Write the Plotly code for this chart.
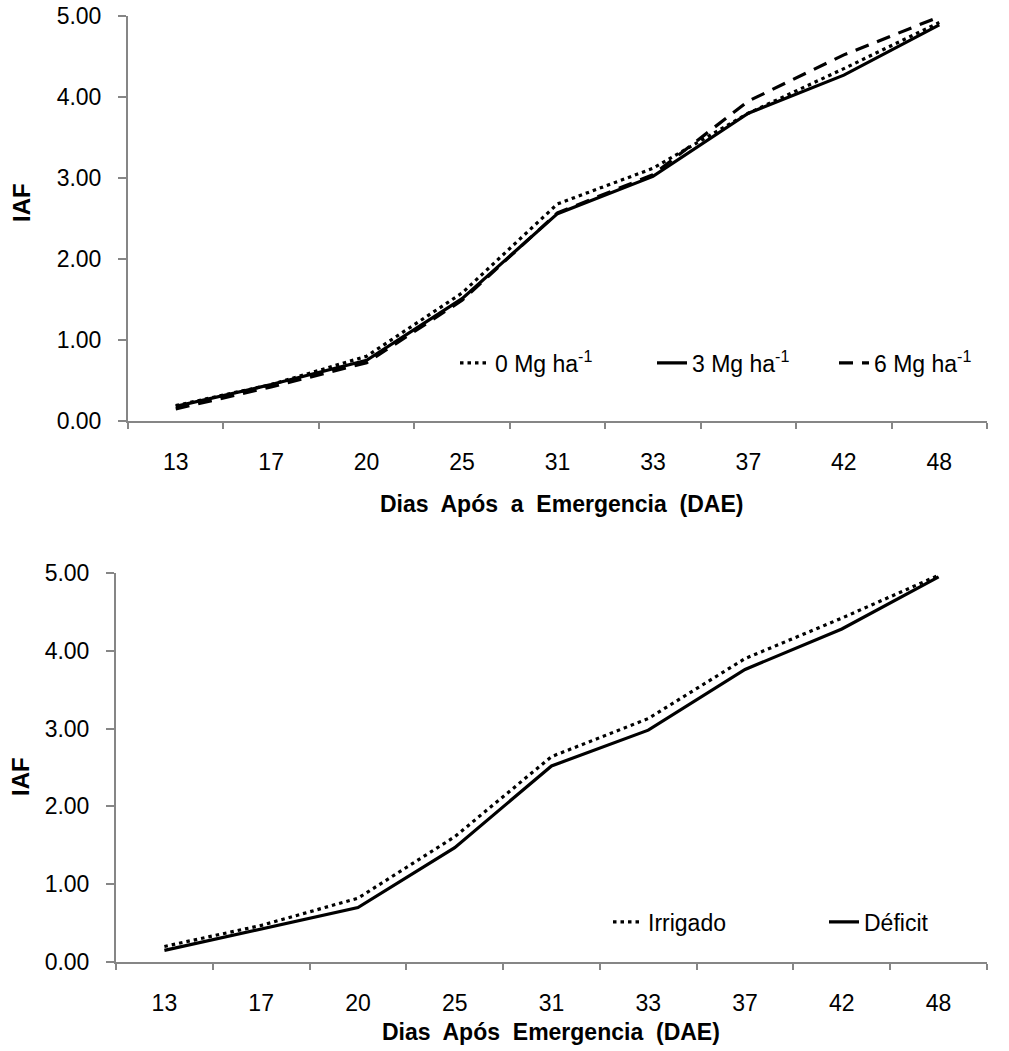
import plotly.graph_objects as go

# ---- data ----
dae = ["13", "17", "20", "25", "31", "33", "37", "42", "48"]

mg0 = [0.19, 0.45, 0.80, 1.58, 2.68, 3.12, 3.80, 4.35, 4.92]
mg3 = [0.18, 0.45, 0.75, 1.51, 2.56, 3.02, 3.80, 4.27, 4.89]
mg6 = [0.15, 0.42, 0.72, 1.49, 2.57, 3.04, 3.95, 4.52, 4.99]

irrigado = [0.20, 0.47, 0.82, 1.61, 2.64, 3.13, 3.90, 4.42, 4.97]
deficit = [0.15, 0.42, 0.70, 1.47, 2.52, 2.98, 3.76, 4.28, 4.95]

ytick_vals = [0, 1, 2, 3, 4, 5]

W, H = 1009, 1051
FONT = "Liberation Sans, Arial, sans-serif"
AXC = "#868686"
LW = 3.2
DOT = "3.5px,4px"
DASH = "14px,9px"
FS = 23

fig = go.Figure()

fig.add_trace(go.Scatter(x=dae, y=mg0, mode="lines", name="0 Mg ha<sup>-1</sup>",
                         line=dict(color="black", width=LW, dash=DOT),
                         xaxis="x", yaxis="y", legend="legend"))
fig.add_trace(go.Scatter(x=dae, y=mg3, mode="lines", name="3 Mg ha<sup>-1</sup>",
                         line=dict(color="black", width=LW),
                         xaxis="x", yaxis="y", legend="legend3"))
fig.add_trace(go.Scatter(x=dae, y=mg6, mode="lines", name="6 Mg ha<sup>-1</sup>",
                         line=dict(color="black", width=LW, dash=DASH),
                         xaxis="x", yaxis="y", legend="legend4"))

fig.add_trace(go.Scatter(x=dae, y=irrigado, mode="lines", name="Irrigado",
                         line=dict(color="black", width=LW, dash=DOT),
                         xaxis="x2", yaxis="y2", legend="legend2"))
fig.add_trace(go.Scatter(x=dae, y=deficit, mode="lines", name="Déficit",
                         line=dict(color="black", width=LW),
                         xaxis="x2", yaxis="y2", legend="legend5"))


def px_x(p):
    return p / W


def px_y(p):
    return (H - p) / H


def leg(xpx, ypx):
    return dict(orientation="h", x=px_x(xpx), xanchor="left",
                y=px_y(ypx), yanchor="middle", bgcolor="rgba(0,0,0,0)",
                font=dict(family=FONT, size=FS, color="black"),
                itemwidth=30)


xcommon = dict(type="category", range=[-0.5, 8.5], tickson="boundaries",
               showline=True, linecolor=AXC, linewidth=2, ticks="outside",
               ticklen=6, tickcolor=AXC, tickwidth=2, showgrid=False,
               zeroline=False, automargin=False,
               tickfont=dict(family=FONT, size=FS, color="black"),
               ticklabelstandoff=19, fixedrange=True)
ycommon = dict(range=[0, 5], tickvals=ytick_vals, tickformat=".2f",
               showline=True, linecolor=AXC, linewidth=2, ticks="outside",
               ticklen=8, tickcolor=AXC, tickwidth=2, showgrid=False,
               zeroline=False, automargin=False,
               tickfont=dict(family=FONT, size=FS, color="black"),
               ticklabelstandoff=12, fixedrange=True)

fig.update_layout(
    width=W, height=H,
    margin=dict(l=0, r=0, t=0, b=0),
    paper_bgcolor="white", plot_bgcolor="white",
    font=dict(family=FONT, color="black"),
    xaxis=dict(domain=[px_x(128), px_x(987)], anchor="y", **xcommon),
    yaxis=dict(domain=[px_y(421), px_y(16)], anchor="x", **ycommon),
    xaxis2=dict(domain=[px_x(116), px_x(987)], anchor="y2", **xcommon),
    yaxis2=dict(domain=[px_y(962), px_y(573)], anchor="x2", **ycommon),
    legend=leg(455, 363),
    legend3=leg(652, 363),
    legend4=leg(834, 363),
    legend2=leg(608, 922),
    legend5=leg(824, 922),
    showlegend=True,
    annotations=[
        dict(text="<b>Dias  Após  a  Emergencia  (DAE)</b>", xref="paper", yref="paper",
             x=px_x(561), y=px_y(504), showarrow=False, xanchor="center", yanchor="middle",
             font=dict(family=FONT, size=FS, color="black")),
        dict(text="<b>Dias  Após  Emergencia  (DAE)</b>", xref="paper", yref="paper",
             x=px_x(551), y=px_y(1032), showarrow=False, xanchor="center", yanchor="middle",
             font=dict(family=FONT, size=FS, color="black")),
        dict(text="<b>IAF</b>", xref="paper", yref="paper", textangle=-90,
             x=px_x(21), y=px_y(203), showarrow=False, xanchor="center", yanchor="middle",
             font=dict(family=FONT, size=24, color="black")),
        dict(text="<b>IAF</b>", xref="paper", yref="paper", textangle=-90,
             x=px_x(20), y=px_y(777), showarrow=False, xanchor="center", yanchor="middle",
             font=dict(family=FONT, size=24, color="black")),
    ],
)

fig.write_html("out.html")
